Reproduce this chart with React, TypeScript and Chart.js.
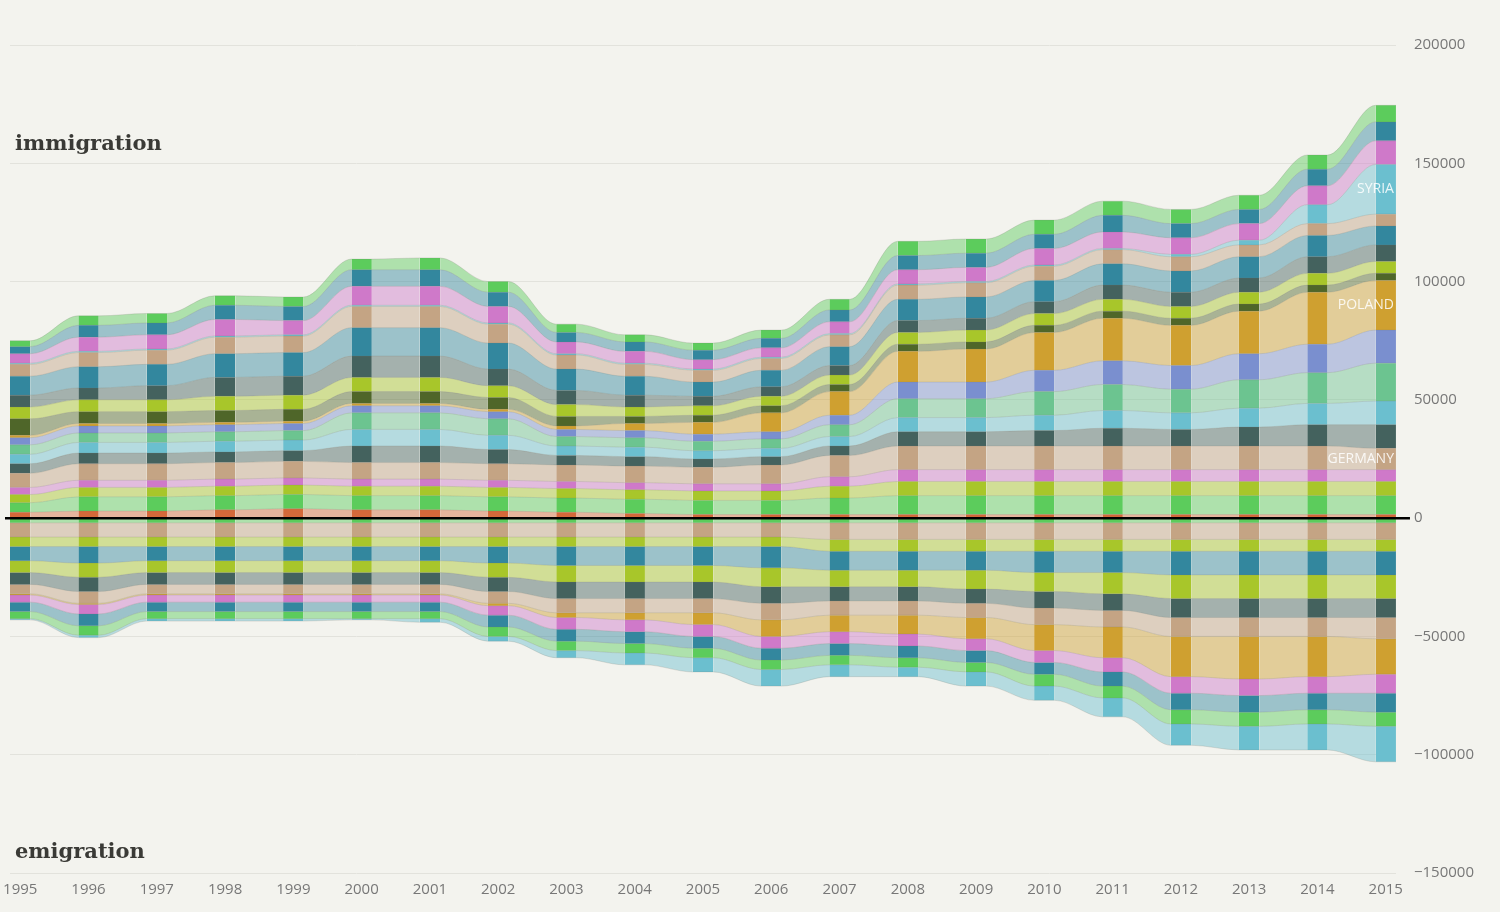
import React, { useEffect, useRef } from "react";
import { Chart, registerables } from "chart.js";
Chart.register(...registerables);

const years = [1995,1996,1997,1998,1999,2000,2001,2002,2003,2004,2005,2006,2007,2008,2009,2010,2011,2012,2013,2014,2015];

// immigration bands, bottom to top
const imA = [2500,3000,3000,3500,4000,3500,3500,3000,2500,2000,1500,1500,1500,1500,1500,1500,1500,1500,1500,1500,1500];
const imB = [4000,6000,6000,6000,6000,6000,6000,6000,6000,6000,6000,6000,7000,8000,8000,8000,8000,8000,8000,8000,8000];
const imC = [3500,4000,4000,4000,4000,4000,4000,4000,4000,4000,4000,4000,5000,6000,6000,6000,6000,6000,6000,6000,6000];
const imD = [3000,3000,3000,3000,3000,3000,3000,3000,3000,3000,3000,3000,4000,5000,5000,5000,5000,5000,5000,5000,5000];
const imGermany = [6000,7000,7000,7000,7000,7000,7000,7000,7000,7000,7000,8000,9000,10000,10000,10000,10000,10000,10000,10000,9000];
const imF = [4000,4500,4500,4500,4500,7000,7000,6000,4000,4000,3500,3500,4000,6000,6000,6500,7500,7000,8000,9000,10000];
const imF2 = [4000,4500,4500,4500,4500,7000,7000,6000,4000,4000,3500,3500,4000,6000,6000,6500,7500,7000,8000,9000,10000];
const imG = [4000,4000,4000,4000,4000,7000,7000,7000,4000,4000,4000,4000,5000,8000,8000,10000,11000,10000,12000,13000,16000];
const imH = [3000,3000,3000,3000,3000,3000,3000,3000,3000,3000,3000,3000,4000,7000,7000,9000,10000,10000,11000,12000,14000];
const imPoland = [1000,1000,1000,1000,1000,1000,1000,1000,1500,3000,5000,8000,10000,13000,14000,16000,18000,17000,18000,22000,21000];
const imJ = [7000,5000,5000,5000,5000,5000,5000,5000,4000,3000,3000,3000,3000,3000,3000,3000,3000,3000,3000,3000,3000];
const imK = [5000,5000,5000,6000,6000,6000,6000,5000,5000,4000,4000,4000,4000,5000,5000,5000,5000,5000,5000,5000,5000];
const imL = [5000,5000,6000,8000,8000,9000,9000,7000,6000,5000,4000,4000,4000,5000,5000,5000,6000,6000,6000,7000,7000];
const imM = [8000,9000,9000,10000,10000,12000,12000,11000,9000,8000,6000,7000,8000,9000,9000,9000,9000,9000,9000,9000,8000];
const imN = [5000,6000,6000,7000,7000,9000,9000,8000,6000,5000,5000,5000,5000,6000,6000,6000,6000,6000,5000,5000,5000];
const imSyria = [500,500,500,500,500,500,500,500,500,500,500,500,500,500,500,500,500,1000,2000,8000,21000];
const imP = [4000,6000,6000,7000,6000,8000,8000,7000,5000,5000,4000,4000,5000,6000,6000,7000,7000,7000,7000,8000,10000];
const imQ = [3000,5000,5000,6000,6000,7000,7000,6000,4000,4000,4000,4000,5000,6000,6000,6000,7000,6000,6000,7000,8000];
const imR = [2500,4000,4000,4000,4000,4500,5000,4500,3500,3000,3000,3500,4500,6000,6000,6000,6000,6000,6000,6000,7000];

// emigration bands, from zero downward
const emA = [-2000,-2000,-2000,-2000,-2000,-2000,-2000,-2000,-2000,-2000,-2000,-2000,-2000,-2000,-2000,-2000,-2000,-2000,-2000,-2000,-2000];
const emGermany = [-6000,-6000,-6000,-6000,-6000,-6000,-6000,-6000,-6000,-6000,-6000,-6000,-7000,-7000,-7000,-7000,-7000,-7000,-7000,-7000,-7000];
const emC = [-4000,-4000,-4000,-4000,-4000,-4000,-4000,-4000,-4000,-4000,-4000,-4000,-5000,-5000,-5000,-5000,-5000,-5000,-5000,-5000,-5000];
const emD = [-6000,-7000,-6000,-6000,-6000,-6000,-6000,-7000,-8000,-8000,-8000,-9000,-8000,-8000,-8000,-9000,-9000,-10000,-10000,-10000,-10000];
const emE = [-5000,-6000,-5000,-5000,-5000,-5000,-5000,-6000,-7000,-7000,-7000,-8000,-7000,-7000,-8000,-8000,-9000,-10000,-10000,-10000,-10000];
const emF = [-5000,-6000,-5000,-5000,-5000,-5000,-5000,-6000,-7000,-7000,-7000,-7000,-6000,-6000,-6000,-7000,-7000,-8000,-8000,-8000,-8000];
const emH = [-4000,-5000,-4000,-4000,-4000,-4000,-4000,-5000,-6000,-6000,-6000,-7000,-6000,-6000,-6000,-7000,-7000,-8000,-8000,-8000,-9000];
const emPoland = [-500,-500,-500,-500,-500,-500,-500,-1000,-2000,-3000,-5000,-7000,-7000,-8000,-9000,-11000,-13000,-17000,-18000,-17000,-15000];
const emI = [-3000,-4000,-3000,-3000,-3000,-3000,-3000,-4000,-5000,-5000,-5000,-5000,-5000,-5000,-5000,-5000,-6000,-7000,-7000,-7000,-8000];
const emJ = [-4000,-5000,-4000,-4000,-4000,-4000,-4000,-5000,-5000,-5000,-5000,-5000,-5000,-5000,-5000,-5000,-6000,-7000,-7000,-7000,-8000];
const emK = [-3000,-4000,-3000,-3000,-3000,-3000,-3000,-4000,-4000,-4000,-4000,-4000,-4000,-4000,-4000,-5000,-5000,-6000,-6000,-6000,-6000];
const emL = [-500,-1000,-1000,-1000,-1000,-500,-1500,-2000,-3000,-5000,-6000,-7000,-5000,-4000,-6000,-6000,-8000,-9000,-10000,-11000,-15000];

const series: [string, number[], string][] = [
  ["A", imA, "#d4693a"], ["B", imB, "#5ccc5c"], ["C", imC, "#a8c62a"], ["D", imD, "#cf79c9"],
  ["GERMANY", imGermany, "#c4a484"], ["F", imF, "#44625e"], ["F2", imF2, "#6bbfcf"], ["G", imG, "#6cc490"], ["H", imH, "#7a8fcf"],
  ["POLAND", imPoland, "#cfa030"], ["J", imJ, "#4f6629"], ["K", imK, "#a8c62a"], ["L", imL, "#44625e"],
  ["M", imM, "#33879e"], ["N", imN, "#c4a484"], ["SYRIA", imSyria, "#6bbfcf"], ["P", imP, "#cf79c9"],
  ["Q", imQ, "#33879e"], ["R", imR, "#5ccc5c"],
  ["eA", emA, "#5ccc5c"], ["eGermany", emGermany, "#c4a484"], ["eC", emC, "#a8c62a"], ["eD", emD, "#33879e"],
  ["eE", emE, "#a8c62a"], ["eF", emF, "#44625e"], ["eH", emH, "#c4a484"], ["ePoland", emPoland, "#cfa030"],
  ["eI", emI, "#cf79c9"], ["eJ", emJ, "#33879e"], ["eK", emK, "#5ccc5c"], ["eL", emL, "#6bbfcf"],
];
const labelled = ["SYRIA", "POLAND", "GERMANY"];

function light(hex: string) {
  const r = parseInt(hex.slice(1, 3), 16), g = parseInt(hex.slice(3, 5), 16), b = parseInt(hex.slice(5, 7), 16);
  return `rgba(${r},${g},${b},0.45)`;
}

const HALF = 0.15;

export default function App() {
  const ref = useRef<HTMLCanvasElement>(null);
  useEffect(() => {
    document.body.style.margin = "0";
    document.body.style.background = "#f3f3ee";
    const datasets = series.map(([name, vals, col], i) => ({
      label: name,
      data: years.flatMap((y, k) => [{ x: y - HALF, y: vals[k] }, { x: y + HALF, y: vals[k] }]),
      backgroundColor: light(col),
      borderWidth: 0.6,
      borderColor: "rgba(120,120,110,0.35)",
      pointRadius: 0,
      cubicInterpolationMode: "monotone" as const,
      fill: i === 0 || name === "eA" ? "origin" : "-1",
      segment: {
        backgroundColor: (ctx: any) => (ctx.p0DataIndex % 2 === 0 ? col : light(col)),
      },
    }));
    const labelPlugin = {
      id: "labels",
      afterDatasetsDraw(chart: any) {
        const c = chart.ctx;
        const ys = chart.scales.y;
        c.save();
        c.strokeStyle = "#000";
        c.lineWidth = 2.5;
        c.beginPath();
        c.moveTo(5, ys.getPixelForValue(0));
        c.lineTo(chart.chartArea.right + 14, ys.getPixelForValue(0));
        c.stroke();
        c.fillStyle = "rgba(255,255,255,0.85)";
        c.font = "14px 'Open Sans'";
        c.textAlign = "right";
        c.textBaseline = "middle";
        chart.data.datasets.forEach((ds: any, i: number) => {
          if (!labelled.includes(ds.label)) return;
          const m = chart.getDatasetMeta(i).data;
          const p = chart.getDatasetMeta(i - 1).data;
          const n = m.length - 1;
          const y = (m[n].y + p[n].y) / 2;
          c.fillText(ds.label, m[n].x - 2, y);
        });
        c.restore();
      },
    };
    const chart = new Chart(ref.current!, {
      type: "line",
      data: { datasets: datasets as any },
      plugins: [labelPlugin],
      options: {
        animation: false,
        responsive: false,
        layout: { padding: { left: 10, top: 45, right: 8, bottom: 13 } },
        plugins: { legend: { display: false }, tooltip: { enabled: false } },
        scales: {
          x: {
            type: "linear", min: 1995 - HALF, max: 2015 + HALF,
            grid: { display: false }, border: { display: false },
            afterBuildTicks: (s: any) => { s.ticks = years.map((v) => ({ value: v })); },
            ticks: { color: "#777", font: { size: 15, family: "'Open Sans'" }, callback: (v: any) => String(v), padding: 0 },
          },
          y: {
            position: "right", stacked: true, min: -150000, max: 200000,
            grid: { color: "#e2e2dc", drawTicks: false }, border: { display: false },
            ticks: { stepSize: 50000, color: "#777", font: { size: 15, family: "'Open Sans'" }, padding: 18,
              callback: (v: any) => (Number(v) < 0 ? "\u2212" + Math.abs(Number(v)) : String(v)) },
          },
        },
      },
    });
    return () => chart.destroy();
  }, []);
  const lbl: React.CSSProperties = { position: "absolute", left: 15, fontFamily: "'DejaVu Serif'", fontWeight: "bold", fontSize: 21, color: "#3a3a36" };
  return (
    <div style={{ position: "relative", width: 1500, height: 912, background: "#f3f3ee" }}>
      <canvas ref={ref} width={1500} height={912} />
      <div style={{ ...lbl, top: 130 }}>immigration</div>
      <div style={{ ...lbl, top: 838 }}>emigration</div>
    </div>
  );
}
